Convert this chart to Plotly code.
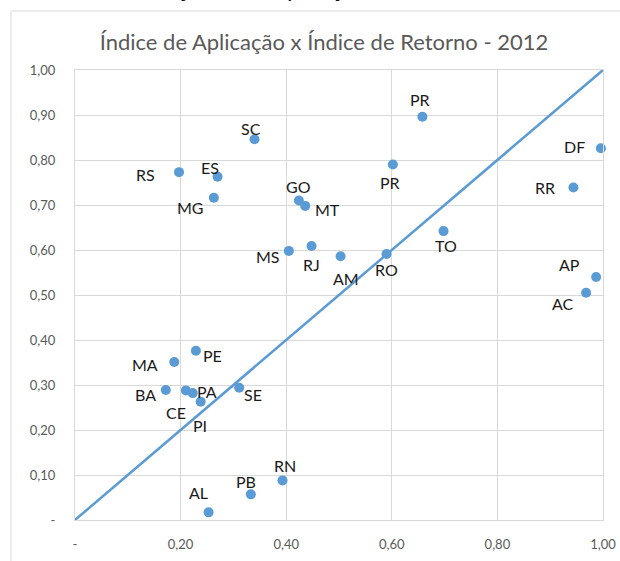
import plotly.graph_objects as go

# Data
states = ["SC", "RS", "ES", "MG", "GO", "MT", "MS", "RJ",
          "PR", "DF", "PR", "RR", "TO", "AM", "RO", "AP", "AC",
          "PE", "MA", "BA", "CE", "PA", "PI", "SE", "RN", "PB", "AL"]
indice_aplicacao = [0.340, 0.197, 0.270, 0.263, 0.424, 0.436, 0.405, 0.448,
                    0.658, 0.996, 0.602, 0.944, 0.698, 0.503, 0.590, 0.987, 0.968,
                    0.229, 0.188, 0.172, 0.210, 0.223, 0.238, 0.311, 0.393, 0.333, 0.253]
indice_retorno = [0.846, 0.773, 0.763, 0.716, 0.710, 0.698, 0.598, 0.609,
                  0.896, 0.826, 0.790, 0.739, 0.642, 0.586, 0.591, 0.540, 0.505,
                  0.376, 0.351, 0.289, 0.288, 0.282, 0.263, 0.294, 0.088, 0.057, 0.017]

# Label offsets (pixels, label centre relative to its point; +dy = downwards)
label_dx = [-4, -34, -8, -23, 0, 22, -21, 0,
            -2, -26, -3, -28, 2, 5, 0, -27, -23,
            17, -29, -20, -10, 14, -1, 14, 2, -5, -10]
label_dy = [-11, 2, -9, 10, -14, 4, 6, 19,
            -17, -2, 18, 0, 14, 22, 15, -13, 11,
            5, 2, 5, 22, -2, 24, 7, -15, -13, -20]

ref_line_x = [0, 1]
ref_line_y = [0, 1]

x_tickvals = [0, 0.2, 0.4, 0.6, 0.8, 1.0]
x_ticktext = ["-", "0,20", "0,40", "0,60", "0,80", "1,00"]
y_tickvals = [0, 0.1, 0.2, 0.3, 0.4, 0.5, 0.6, 0.7, 0.8, 0.9, 1.0]
y_ticktext = ["-", "0,10", "0,20", "0,30", "0,40", "0,50", "0,60", "0,70", "0,80", "0,90", "1,00"]

blue = "#5B9BD5"
grid = "#D9D9D9"
font_family = "Lato, 'Open Sans', sans-serif"

fig = go.Figure()
fig.add_trace(go.Scatter(
    x=ref_line_x, y=ref_line_y, mode="lines",
    line=dict(color=blue, width=2.5), hoverinfo="skip", showlegend=False,
))
fig.add_trace(go.Scatter(
    x=indice_aplicacao, y=indice_retorno, mode="markers",
    text=states, hovertemplate="%{text}: (%{x:.2f}, %{y:.2f})<extra></extra>",
    marker=dict(color=blue, size=10),
    cliponaxis=False, showlegend=False,
))

annotations = []
for name, xv, yv, dx, dy in zip(states, indice_aplicacao, indice_retorno, label_dx, label_dy):
    annotations.append(dict(
        text=name, x=xv, y=yv, xref="x", yref="y",
        xanchor="center", yanchor="middle", xshift=dx, yshift=-dy,
        showarrow=False,
        font=dict(family=font_family, size=16, color="#1a1a1a"),
    ))

annotations.append(dict(
    text="Gráfico 3: Relação entre Aplicação e Retorno - 2012",
    xref="paper", yref="paper",
    x=(287 - 75) / 528, xanchor="center",
    y=(520 - 4) / 450, yanchor="bottom",
    showarrow=False,
    font=dict(family=font_family, size=22, color="#000000"),
))

fig.update_layout(
    width=620, height=561,
    margin=dict(l=75, r=17, t=70, b=41, autoexpand=False),
    paper_bgcolor="white", plot_bgcolor="white",
    font=dict(family=font_family, color="#595959"),
    title=dict(
        text="Índice de Aplicação x Índice de Retorno - 2012",
        x=324 / 620, xanchor="center", y=1 - 42 / 561, yanchor="middle",
        font=dict(family=font_family, size=22, color="#595959"),
    ),
    xaxis=dict(
        range=[0, 1], tickvals=x_tickvals, ticktext=x_ticktext,
        showgrid=True, gridcolor=grid, gridwidth=1, zeroline=False,
        showline=True, linecolor=grid, mirror=True, automargin=False,
        tickfont=dict(family=font_family, size=13, color="#595959"),
        ticks="", ticklabelstandoff=12,
    ),
    yaxis=dict(
        range=[0, 1], tickvals=y_tickvals, ticktext=y_ticktext,
        showgrid=True, gridcolor=grid, gridwidth=1, zeroline=False,
        showline=True, linecolor=grid, mirror=True, automargin=False,
        tickfont=dict(family=font_family, size=13, color="#595959"),
        ticks="", ticklabelstandoff=16,
    ),
    shapes=[dict(
        type="rect", xref="paper", yref="paper",
        x0=(11 - 75) / 528, x1=(630 - 75) / 528,
        y0=(520 - 575) / 450, y1=(520 - 11) / 450,
        line=dict(color=grid, width=1), fillcolor="rgba(0,0,0,0)", layer="below",
    )],
    annotations=annotations,
)

fig.write_html(
    "out.html",
    config={"displayModeBar": False},
    post_script="document.body.style.margin='0';document.body.style.overflow='hidden';",
)
